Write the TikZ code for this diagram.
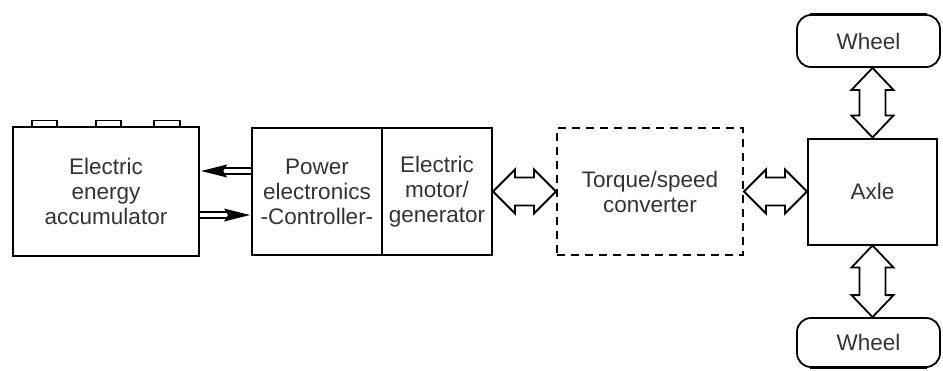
\documentclass[tikz,border=0pt]{standalone}
\usepackage{fontspec}
\setmainfont{Liberation Sans}
\usetikzlibrary{calc}
\definecolor{txt}{HTML}{333333}
\tikzset{
  lbl/.style={font=\fontsize{22.5}{25}\selectfont, text=txt, align=center},
  box/.style={draw=black, line width=2pt, inner sep=0pt, lbl},
  dbox/.style={draw=black, line width=2pt, inner sep=0pt, dash pattern=on 8pt off 6pt, lbl},
  wheelbox/.style={draw=black, line width=1.8pt, rounded corners=14pt, inner sep=0pt, lbl},
  fatarr/.style={draw=black, line width=1.8pt, fill=white, line join=miter},
  thinarr/.style={draw=black, line width=1.4pt}
}
\newcommand\hdarrow[2]{%
  \draw[fatarr] (#1) -- ++(22,-22) -- ++(0,8) -- ($(#2)+(-22,-14)$) -- ++(0,-8) -- (#2)
    -- ++(-22,22) -- ++(0,-8) -- ($(#1)+(22,14)$) -- ++(0,8) -- cycle;}
\newcommand\vdarrow[2]{%
  \draw[fatarr] (#1) -- ++(-21,22) -- ++(8,0) -- ($(#2)+(-13,-22)$) -- ++(-8,0) -- (#2)
    -- ++(21,-22) -- ++(-8,0) -- ($(#1)+(13,22)$) -- ++(8,0) -- cycle;}
\begin{document}
\begin{tikzpicture}[x=1pt,y=-1pt]
\useasboundingbox (0,0) rectangle (943,370);
% accumulator terminals
\foreach \a/\b in {32/57,96/121,154/180}{
  \draw[black, line width=1.4pt] (\a,127) -- (\a,120.5) -- (\b,120.5) -- (\b,127);
}
\node[box, line width=2.4pt, minimum width=186pt, minimum height=129pt] (acc) at (106,191.5)
  {Electric\\energy\\accumulator};
\node[box, minimum width=130pt, minimum height=127pt] (pe) at (317,191.5)
  {Power\\electronics\\-Controller-};
\node[box, minimum width=110pt, minimum height=127pt] (mg) at (437,191.5)
  {Electric\\motor/\\generator};
\node[dbox, minimum width=186pt, minimum height=127pt] (tsc) at (650,191.5)
  {Torque/speed\\converter};
\node[box, minimum width=129pt, minimum height=106pt] (axle) at (872.5,191.5) {Axle};
\node[wheelbox, minimum width=143pt, minimum height=52pt] (w1) at (868.5,41) {Wheel};
\node[wheelbox, minimum width=143pt, minimum height=49pt] (w2) at (868.5,342.5) {Wheel};
\draw[black, line width=3pt] ($(w1.north west)+(14,0)$) -- ($(w1.north east)+(-14,0)$);
\draw[black, line width=3pt] ($(w2.south west)+(14,0)$) -- ($(w2.south east)+(-14,0)$);
% small arrows between accumulator and controller
\coordinate (u1) at (acc.east |- 0,171);
\coordinate (u2) at (pe.west |- 0,171);
\coordinate (l1) at (acc.east |- 0,215);
\coordinate (l2) at (pe.west |- 0,215);
\draw[thinarr] ($(u2)+(0,-3)$) -- ($(u1)+(20,-3)$);
\draw[thinarr] ($(u2)+(0,3)$) -- ($(u1)+(20,3)$);
\fill[black] ($(u1)+(1,0)$) -- ($(u1)+(27,-6.5)$) -- ($(u1)+(23,0)$) -- ($(u1)+(27,6.5)$) -- cycle;
\draw[thinarr] ($(l1)+(0,-3)$) -- ($(l2)+(-20,-3)$);
\draw[thinarr] ($(l1)+(0,3)$) -- ($(l2)+(-20,3)$);
\fill[black] ($(l2)+(-1,0)$) -- ($(l2)+(-27,-6.5)$) -- ($(l2)+(-23,0)$) -- ($(l2)+(-27,6.5)$) -- cycle;
% fat double arrows
\hdarrow{mg.east}{tsc.west}
\hdarrow{tsc.east}{axle.west}
\vdarrow{axle.north |- w1.south}{axle.north}
\vdarrow{axle.south}{axle.south |- w2.north}
\end{tikzpicture}
\end{document}
